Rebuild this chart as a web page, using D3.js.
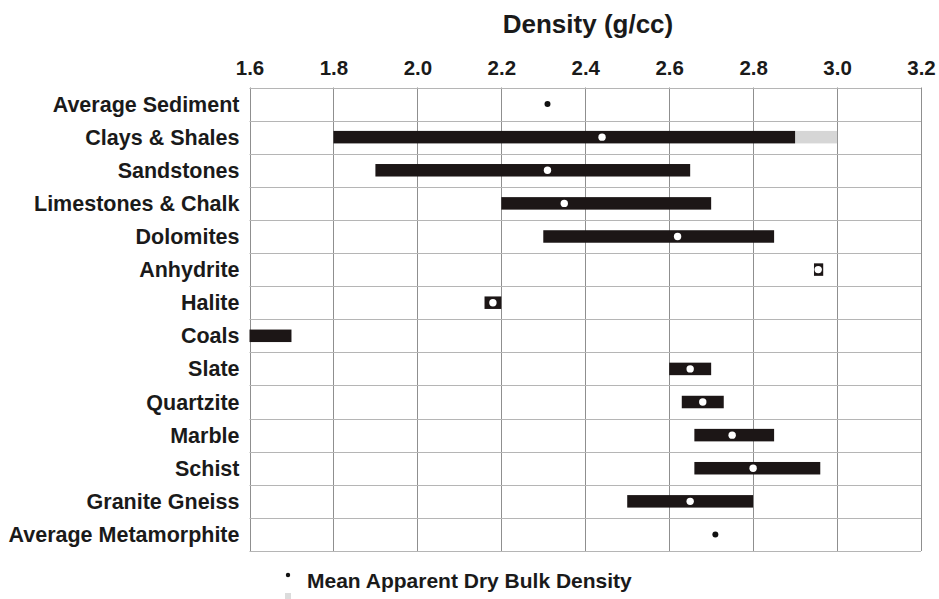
<!DOCTYPE html>
<html><head><meta charset="utf-8">
<script src="https://cdn.jsdelivr.net/npm/d3@7"></script>
<style>body{margin:0;background:#fff}svg{display:block}text{font-family:"Liberation Sans",Arial,sans-serif;font-weight:bold;fill:#1a1a1a}</style>
</head><body><svg id="c" width="939" height="599"></svg>
<script>
const categories = ["Average Sediment","Clays & Shales","Sandstones","Limestones & Chalk","Dolomites","Anhydrite","Halite","Coals","Slate","Quartzite","Marble","Schist","Granite Gneiss","Average Metamorphite"];
const rangeMin = [null,1.80,1.90,2.20,2.30,2.945,2.16,1.60,2.60,2.63,2.66,2.66,2.50,null];
const rangeMax = [null,2.90,2.65,2.70,2.85,2.967,2.20,1.70,2.70,2.73,2.85,2.96,2.80,null];
const extMax   = [null,3.00,null,null,null,null,null,null,null,null,null,null,null,null];
const meanVal  = [2.31,2.44,2.31,2.35,2.62,2.955,2.18,null,2.65,2.68,2.75,2.80,2.65,2.71];
const xTicks = [1.6,1.8,2.0,2.2,2.4,2.6,2.8,3.0,3.2];
const legendLabel = "Mean Apparent Dry Bulk Density";

const svg = d3.select("#c");
const L=249.5, R=921, T=87.5, B=551;
const x = d3.scaleLinear().domain([1.6,3.2]).range([L,R]);
const y = d3.scaleBand().domain(categories).range([T,B]);

// grid
svg.append("g").selectAll("line").data(xTicks).join("line")
  .attr("x1",d=>Math.round(x(d))+0.5).attr("x2",d=>Math.round(x(d))+0.5)
  .attr("y1",T).attr("y2",B).attr("stroke","#8f8f8f").attr("stroke-width",1);
const hb = categories.map(c=>y(c)).concat([B]);
svg.append("g").selectAll("line").data(hb).join("line")
  .attr("x1",L).attr("x2",R).attr("y1",d=>Math.round(d)+0.5).attr("y2",d=>Math.round(d)+0.5)
  .attr("stroke","#b5b5b5").attr("stroke-width",1.2);

// axis labels
const ax = d3.axisTop(x).tickValues(xTicks).tickFormat(d3.format(".1f")).tickSize(0).tickPadding(0);
const g = svg.append("g").attr("transform",`translate(0,75)`).call(ax);
g.select(".domain").remove();
g.selectAll("text").attr("font-size",20.5).attr("font-family","Liberation Sans, Arial, sans-serif").attr("font-weight","bold").attr("fill","#1a1a1a");

svg.append("text").attr("x",588).attr("y",33).attr("text-anchor","middle").attr("font-size",26).text("Density (g/cc)");

// row labels
svg.append("g").selectAll("text").data(categories).join("text")
  .attr("x",239.5).attr("y",d=>y(d)+y.bandwidth()/2+7.5).attr("text-anchor","end")
  .attr("font-size",21.5).text(d=>d);

const bh = 12.5;
const data = categories.map((c,i)=>({c,lo:rangeMin[i],hi:rangeMax[i],ext:extMax[i],m:meanVal[i]}));
// extension (gray)
svg.append("g").selectAll("rect").data(data.filter(d=>d.ext!=null)).join("rect")
  .attr("x",d=>x(d.hi)).attr("width",d=>x(d.ext)-x(d.hi))
  .attr("y",d=>y(d.c)+y.bandwidth()/2-bh/2).attr("height",bh).attr("fill","#d6d6d6");
// bars
svg.append("g").selectAll("rect").data(data.filter(d=>d.lo!=null)).join("rect")
  .attr("x",d=>x(d.lo)).attr("width",d=>x(d.hi)-x(d.lo))
  .attr("y",d=>y(d.c)+y.bandwidth()/2-bh/2).attr("height",bh).attr("fill","#1c1616");
// means
svg.append("g").selectAll("circle").data(data.filter(d=>d.m!=null)).join("circle")
  .attr("cx",d=>x(d.m)).attr("cy",d=>y(d.c)+y.bandwidth()/2)
  .attr("r",d=>d.lo!=null?3.7:3).attr("fill",d=>d.lo!=null?"#fff":"#111");

// legend
svg.append("circle").attr("cx",288).attr("cy",575).attr("r",2.2).attr("fill","#111");
svg.append("text").attr("x",307).attr("y",588).attr("font-size",21).text(legendLabel);
svg.append("rect").attr("x",285).attr("y",593).attr("width",6).attr("height",6).attr("fill","#dcdcdc");
</script></body></html>
